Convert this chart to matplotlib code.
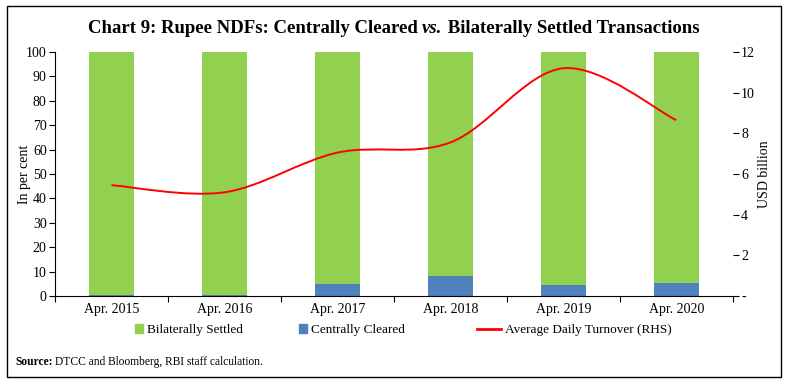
import matplotlib
matplotlib.use("Agg")
import matplotlib.pyplot as plt
from matplotlib.path import Path
from matplotlib.patches import PathPatch, Rectangle, Patch
from matplotlib.lines import Line2D
import numpy as np

categories = ["Apr. 2015", "Apr. 2016", "Apr. 2017", "Apr. 2018", "Apr. 2019", "Apr. 2020"]
centrally_cleared = [0.5, 0.5, 5.0, 8.0, 4.5, 5.5]
bilaterally_settled = [99.5, 99.5, 95.0, 92.0, 95.5, 94.5]
turnover = [5.45, 5.1, 7.05, 7.55, 11.2, 8.65]
left_ticks = list(range(0, 101, 10))
right_ticks = [0, 2, 4, 6, 8, 10, 12]
right_labels = ["-", "2", "4", "6", "8", "10", "12"]
legend_labels = ["Bilaterally Settled", "Centrally Cleared", "Average Daily Turnover (RHS)"]

plt.rcParams['font.family'] = ['Liberation Serif', 'DejaVu Serif']

GREEN = "#92D050"
BLUE = "#4F81BD"
RED = "#FF0000"

fig = plt.figure(figsize=(7.87, 3.86), dpi=100)
ax = fig.add_axes([0.0699, 0.2332, 0.8611, 0.6321])
ax2 = ax.twinx()

x = np.arange(len(categories))
ax.bar(x, centrally_cleared, width=0.4, color=BLUE, zorder=2)
ax.bar(x, bilaterally_settled, width=0.4, bottom=centrally_cleared, color=GREEN, zorder=2)

ax.set_xlim(-0.5, len(categories) - 0.5)
ax.set_ylim(0, 100)
ax.set_yticks(left_ticks)
ax.set_xticks(x)
ax.set_xticklabels(categories, fontsize=10)
ax.set_xticks(np.arange(-0.5, len(categories) + 0.5, 1), minor=True)
ax.tick_params(axis='x', which='major', length=0, pad=5)
ax.tick_params(axis='x', which='minor', length=4, direction='out', width=0.8)
ax.tick_params(axis='y', length=4, direction='out', width=0.8, labelsize=10, pad=2)
ax.set_ylabel("In per cent", fontsize=10)
ax.yaxis.set_label_coords(-0.035, 0.5)

for s in ['top', 'right']:
    ax.spines[s].set_visible(False)
    ax2.spines[s].set_visible(False)
ax2.spines['left'].set_visible(False)
ax2.spines['bottom'].set_visible(False)
for sp in [ax.spines['left'], ax.spines['bottom'], ax2.spines['right']]:
    sp.set_linewidth(0.8)

ax2.set_ylim(0, 12)
ax2.set_yticks(right_ticks)
ax2.set_yticklabels(right_labels)
ax2.tick_params(axis='y', length=4, direction='out', width=0.8, labelsize=10, pad=2)
ax2.set_ylabel("USD billion", fontsize=10)
ax2.yaxis.set_label_coords(1.038, 0.5)

# smoothed line (Catmull-Rom as cubic Bezier)
P = np.column_stack([x, turnover]).astype(float)
ext = np.vstack([P[0], P, P[-1]])
verts = [tuple(P[0])]
codes = [Path.MOVETO]
for i in range(len(P) - 1):
    p0, p1, p2, p3 = ext[i], ext[i + 1], ext[i + 2], ext[i + 3]
    c1 = p1 + (p2 - p0) / 6.0
    c2 = p2 - (p3 - p1) / 6.0
    verts += [tuple(c1), tuple(c2), tuple(p2)]
    codes += [Path.CURVE4] * 3
ax2.add_patch(PathPatch(Path(verts, codes), facecolor='none', edgecolor=RED, lw=1.4, zorder=3))

# title in three pieces (italic "vs.")
renderer = fig.canvas.get_renderer()
parts = [("Chart 9: Rupee NDFs: Centrally Cleared ", 'normal'),
         ("vs.", 'italic'),
         (" Bilaterally Settled Transactions", 'normal')]
tsize = 13.5
texts = []
for s, st in parts:
    t = fig.text(0, 0.925, s, fontsize=tsize, fontweight='bold', fontstyle=st, va='center', ha='left')
    texts.append(t)
widths = [t.get_window_extent(renderer).width for t in texts]
total = sum(widths)
xpix = 0.5 * fig.bbox.width - total / 2
for t, w in zip(texts, widths):
    t.set_x(xpix / fig.bbox.width)
    xpix += w

# legend: three single-entry legends
handles = [Patch(color=GREEN), Patch(color=BLUE), Line2D([0], [0], color=RED, lw=2)]
lx = [135 / 787, 299 / 787, 477 / 787]
hl = [0.6, 0.6, 1.85]
for h, lab, xx, l in zip(handles, legend_labels, lx, hl):
    lg = fig.legend([h], [lab], loc='center left', bbox_to_anchor=(xx, 1 - 330 / 386), frameon=False,
                    fontsize=9.5, handlelength=l, handleheight=0.6, handletextpad=0.3,
                    borderpad=0, borderaxespad=0)

fig.text(0.019, 0.062, "Source:", fontsize=8.3, fontweight='bold', va='center')
fig.text(0.070, 0.062, "DTCC and Bloomberg, RBI staff calculation.", fontsize=8.3, va='center')

fig.add_artist(Rectangle((0.009, 0.024), 0.984, 0.96, transform=fig.transFigure,
                         fill=False, edgecolor='black', lw=1.0))

fig.savefig("out.png", dpi=100)
